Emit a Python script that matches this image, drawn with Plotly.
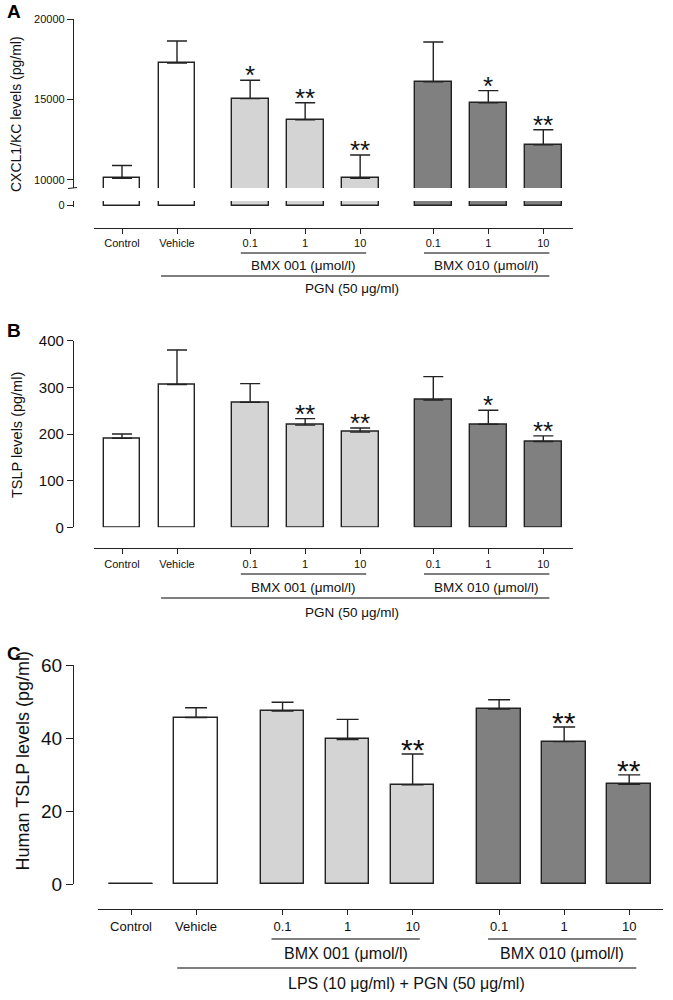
import plotly.graph_objects as go

# ---------------- data ----------------
labels = ["Control", "Vehicle", "0.1", "1", "10", "0.1", "1", "10"]
groups = [0, 0, 1, 1, 1, 2, 2, 2]          # 0 = controls, 1 = BMX 001, 2 = BMX 010

A_mean = [10100, 17270, 15050, 13730, 10100, 16100, 14800, 12190]
A_err = [800, 1360, 1140, 1070, 1450, 2470, 750, 930]
A_sig = ["", "", "*", "**", "**", "", "*", "**"]

B_mean = [191, 306, 268, 219, 204, 273, 221, 184]
B_err = [9, 74, 40, 14, 9, 50, 30, 12]
B_sig = ["", "", "", "**", "**", "", "*", "**"]

C_mean = [0, 45.6, 47.4, 39.6, 27.2, 47.9, 39.0, 27.3]
C_err = [0, 2.7, 2.4, 5.5, 8.4, 2.6, 4.0, 2.6]
C_sig = ["", "", "", "", "**", "", "**", "**"]

# ---------------- style ----------------
W, H = 673, 1000
FONT = "Liberation Sans, Arial, sans-serif"
INK = "#222222"
GROUP_FILL = ["#ffffff", "#d4d4d4", "#808080"]
GAP = 0.33
BARW = 0.67

pos = [i + GAP * g for i, g in enumerate(groups)]
fills = [GROUP_FILL[g] for g in groups]


def fx(px):
    return px / W


def fy(py):
    return 1 - py / H


fig = go.Figure()


def add_bars(mean, err, xa, ya, show_err=True, capw=10):
    fig.add_trace(go.Bar(
        x=pos, y=mean, width=BARW, xaxis=xa, yaxis=ya,
        marker=dict(color=fills, line=dict(color=INK, width=1.4)),
        error_y=dict(type="data", symmetric=False, array=err,
                     arrayminus=[0] * len(err), visible=show_err,
                     color=INK, thickness=1.4, width=capw),
        showlegend=False, hoverinfo="skip"))
    # zero-height bars are drawn as a flat outline
    for p, m in zip(pos, mean):
        if m == 0:
            fig.add_trace(go.Scatter(
                x=[p - BARW / 2, p + BARW / 2], y=[m, m], xaxis=xa, yaxis=ya,
                mode="lines", line=dict(color=INK, width=1.4),
                cliponaxis=False, showlegend=False, hoverinfo="skip"))


def add_sig(mean, err, sig, xref, yref, size, shift):
    for p, m, e, s in zip(pos, mean, err, sig):
        if s:
            fig.add_annotation(x=p, y=m + e, xref=xref, yref=yref, text=s,
                               showarrow=False, xanchor="center", yanchor="bottom",
                               yshift=shift, font=dict(size=size, color="#111"))


# Panel A (broken axis)
add_bars(A_mean, A_err, "x", "y")
add_bars(A_mean, A_err, "x", "y2", show_err=False)
add_sig(A_mean, A_err, A_sig, "x", "y", 26, -12)
# Panel B
add_bars(B_mean, B_err, "x2", "y3")
add_sig(B_mean, B_err, B_sig, "x2", "y3", 26, -12)
# Panel C
add_bars(C_mean, C_err, "x3", "y4", capw=11)
add_sig(C_mean, C_err, C_sig, "x3", "y4", 30, -14)

axis_common = dict(showline=True, linecolor=INK, linewidth=1.2, ticks="outside",
                   tickcolor=INK, tickwidth=1.2, showgrid=False, zeroline=False,
                   fixedrange=True, automargin=False)

xcommon = dict(axis_common, tickvals=pos, ticktext=labels, ticklen=5, anchor="free")

fig.update_layout(
    template="none",
    width=W, height=H, margin=dict(l=0, r=0, t=0, b=0, pad=0, autoexpand=False),
    paper_bgcolor="white", plot_bgcolor="white",
    font=dict(family=FONT, color="#111"),
    bargap=0,
    xaxis=dict(xcommon, domain=[fx(94), fx(573)], range=[-0.509, 8.2],
               position=fy(228), tickfont=dict(size=11)),
    xaxis2=dict(xcommon, domain=[fx(94), fx(573)], range=[-0.509, 8.2],
                position=fy(548.3), tickfont=dict(size=11)),
    xaxis3=dict(xcommon, domain=[fx(98), fx(663)], range=[-0.508, 8.18],
                position=fy(909), tickfont=dict(size=13)),
    yaxis=dict(axis_common, domain=[fy(188), fy(19)], range=[9500, 20000],
               tickvals=[10000, 15000, 20000], tickformat="d", ticklen=6,
               anchor="free", position=fx(73), tickfont=dict(size=11)),
    yaxis2=dict(axis_common, domain=[fy(207), fy(201)], range=[-100, 300],
                tickvals=[0], ticklen=6, anchor="free", position=fx(73),
                tickfont=dict(size=11)),
    yaxis3=dict(axis_common, domain=[fy(527.3), fy(340.7)], range=[0, 400],
                dtick=100, ticklen=6, anchor="free", position=fx(73),
                tickfont=dict(size=15)),
    yaxis4=dict(axis_common, domain=[fy(884), fy(665)], range=[0, 60],
                dtick=20, ticklen=7, anchor="free", position=fx(73),
                tickfont=dict(size=19)),
)

# y-axis titles
for txt, x, y, size in [("CXCL1/KC levels (pg/ml)", 15.5, 114.5, 14),
                        ("TSLP levels (pg/ml)", 17, 435, 14.5),
                        ("Human TSLP levels (pg/ml)", 22, 761.5, 18)]:
    fig.add_annotation(x=fx(x), y=fy(y), xref="paper", yref="paper", text=txt,
                       textangle=-90, showarrow=False, xanchor="center",
                       yanchor="middle", font=dict(size=size))

# panel letters
for letter, x, y in [("A", 14, 11), ("B", 14, 331), ("C", 14, 653)]:
    fig.add_annotation(x=fx(x), y=fy(y), xref="paper", yref="paper",
                       text="<b>%s</b>" % letter, showarrow=False,
                       xanchor="center", yanchor="middle",
                       font=dict(size=19, color="#000"))

# axis-break mark for panel A
fig.add_shape(type="line", xref="paper", yref="paper",
              x0=fx(68), x1=fx(77), y0=fy(188.5), y1=fy(187.5),
              line=dict(color=INK, width=1.2))


# group brackets under the x axes
def brackets(xref, y_small, y_small_lbl, y_big, y_big_lbl, big_text, big_shift, size):
    for a, b, txt in [(2, 4, "BMX 001 (\u03bcmol/l)"), (5, 7, "BMX 010 (\u03bcmol/l)")]:
        x0, x1 = pos[a] - 0.17, pos[b] + 0.11
        fig.add_shape(type="line", xref=xref, yref="paper", x0=x0, x1=x1,
                      y0=fy(y_small), y1=fy(y_small), line=dict(color="#000", width=1.2))
        fig.add_annotation(x=(x0 + x1) / 2, y=fy(y_small_lbl), xref=xref, yref="paper",
                           text=txt, showarrow=False, xanchor="center",
                           yanchor="middle", font=dict(size=size))
    x0, x1 = pos[1] - 0.29, pos[7] + 0.11
    fig.add_shape(type="line", xref=xref, yref="paper", x0=x0, x1=x1,
                  y0=fy(y_big), y1=fy(y_big), line=dict(color="#000", width=1.2))
    fig.add_annotation(x=(x0 + x1) / 2 + big_shift, y=fy(y_big_lbl), xref=xref,
                       yref="paper", text=big_text, showarrow=False,
                       xanchor="center", yanchor="middle", font=dict(size=size))


brackets("x", 253, 265, 276, 289, "PGN (50 \u03bcg/ml)", -0.05, 13.5)
brackets("x2", 574, 587, 598, 612, "PGN (50 \u03bcg/ml)", -0.05, 13.5)
brackets("x3", 939, 953, 968, 983, "LPS (10 \u03bcg/ml) + PGN (50 \u03bcg/ml)", 0.0, 16)

fig.write_html("out.html",
               config={"displayModeBar": False, "staticPlot": False},
               post_script="document.body.style.margin='0';"
                           "document.body.style.padding='0';")
